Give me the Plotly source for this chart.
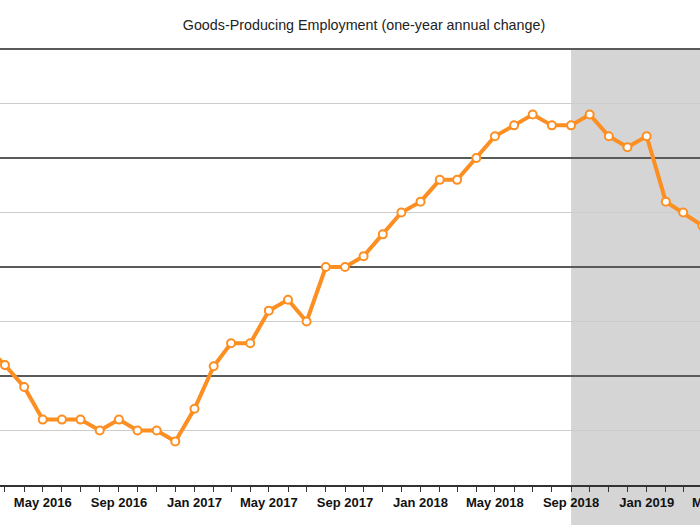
import pandas as pd
import plotly.graph_objects as go

# Month labels and one-year change in goods-producing employment (thousands)
months = [
    "Feb 2016", "Mar 2016", "Apr 2016", "May 2016", "Jun 2016", "Jul 2016", "Aug 2016",
    "Sep 2016", "Oct 2016", "Nov 2016", "Dec 2016", "Jan 2017", "Feb 2017", "Mar 2017",
    "Apr 2017", "May 2017", "Jun 2017", "Jul 2017", "Aug 2017", "Sep 2017", "Oct 2017",
    "Nov 2017", "Dec 2017", "Jan 2018", "Feb 2018", "Mar 2018", "Apr 2018", "May 2018",
    "Jun 2018", "Jul 2018", "Aug 2018", "Sep 2018", "Oct 2018", "Nov 2018", "Dec 2018",
    "Jan 2019", "Feb 2019", "Mar 2019", "Apr 2019",
]
values = [
    127, 110, 90, 60, 60, 60, 50,
    60, 50, 50, 40, 70, 109, 130,
    130, 160, 170, 150, 200, 200, 210,
    230, 250, 260, 280, 280, 300, 320,
    330, 340, 330, 330, 340, 320, 310,
    320, 260, 250, 238,
]

title_text = "Goods-Producing Employment (one-year annual change)"
shade_start = "Sep 2018"
shade_end = "Dec 2019"
# the chart is wider than the window; the window shows its left 700 px
x_range = ["2016-02-22", "2019-07-03"]
y_range = [0, 401]

dates = pd.to_datetime(months, format="%b %Y")

ORANGE = "#fd8f22"
FIG_W = 760

fig = go.Figure()
fig.add_trace(go.Scatter(
    x=dates, y=values, mode="lines+markers",
    line=dict(color=ORANGE, width=4),
    marker=dict(size=8, color="white", line=dict(color=ORANGE, width=2)),
    cliponaxis=False,
    hoverinfo="x+y",
))

# shaded period
fig.add_shape(
    type="rect", xref="x", yref="paper",
    x0=pd.to_datetime(shade_start, format="%b %Y"), x1=pd.to_datetime(shade_end, format="%b %Y"),
    y0=-0.2, y1=400 / 401,
    fillcolor="#d5d5d5", line=dict(width=0), layer="below",
)

fig.update_layout(
    width=FIG_W, height=525,
    margin=dict(l=0, r=0, t=48, b=40),
    paper_bgcolor="white",
    plot_bgcolor="rgba(0,0,0,0)",
    showlegend=False,
    title=dict(
        text=title_text, x=364 / FIG_W, xanchor="center", y=1 - 25 / 525, yanchor="middle",
        font=dict(family="Liberation Sans, Arial, sans-serif", size=14.3, color="#222"),
    ),
    xaxis=dict(
        type="date", range=x_range,
        tickmode="linear", tick0="2016-01-01", dtick="M4", tickformat="%b %Y",
        ticks="outside", ticklen=5, tickcolor="#333", tickwidth=1,
        minor=dict(dtick="M1", ticks="outside", ticklen=5, tickcolor="#333", showgrid=False),
        showgrid=False, zeroline=False,
        showline=True, linecolor="#333", linewidth=1.5,
        tickfont=dict(family="Liberation Sans, Arial, sans-serif", size=13, color="#111", weight="bold"),
    ),
    yaxis=dict(
        range=y_range, tickmode="linear", tick0=0, dtick=100,
        showticklabels=False, ticks="",
        showgrid=True, gridcolor="#5a5a5a", gridwidth=1.5,
        minor=dict(dtick=50, showgrid=True, gridcolor="#cccccc", gridwidth=1),
        zeroline=False, showline=False,
    ),
)

fig.write_html(
    "out.html",
    config={"displayModeBar": False},
    post_script=(
        "document.body.style.margin='0';"
        "document.body.style.overflow='hidden';"
        "document.documentElement.style.overflow='hidden';"
    ),
)
